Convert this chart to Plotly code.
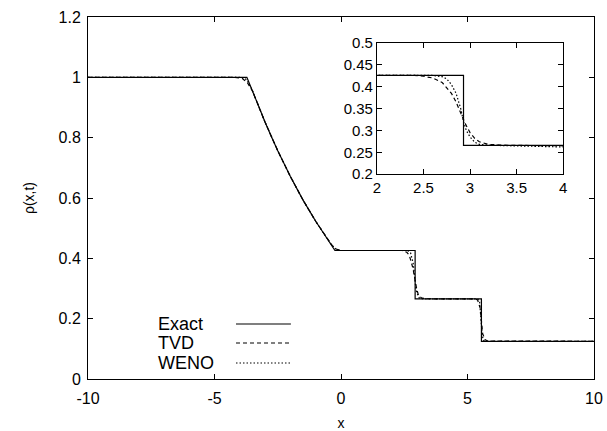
import plotly.graph_objects as go

# ---- data ----
exact_x = [-10, -3.72, -3.5, -3.25, -3.0, -2.75, -2.5, -2.0, -1.5, -1.0, -0.5, -0.24,
           2.93, 2.93, 5.55, 5.55, 10]
exact_rho = [1.0, 1.0, 0.955, 0.902, 0.851, 0.803, 0.757, 0.671, 0.593, 0.523, 0.459, 0.426,
             0.426, 0.2656, 0.2656, 0.125, 0.125]

tvd_x = [-10, -4.2, -3.9, -3.7, -3.5, -3.25, -3.0, -2.5, -2.0, -1.5, -1.0, -0.5, -0.35, -0.2, 0.0,
         2.4, 2.5, 2.6, 2.7, 2.8, 2.85, 2.9, 2.95, 3.0, 3.05, 3.1, 3.2, 3.4,
         5.3, 5.4, 5.5, 5.55, 5.6, 5.7, 5.8, 10]
tvd_rho = [1.0, 1.0, 0.996, 0.982, 0.955, 0.902, 0.851, 0.757, 0.671, 0.593, 0.523, 0.461, 0.443, 0.431, 0.426,
           0.426, 0.424, 0.420, 0.410, 0.385, 0.365, 0.340, 0.315, 0.295, 0.282, 0.274, 0.268, 0.266,
           0.2656, 0.262, 0.235, 0.19, 0.15, 0.13, 0.126, 0.125]

weno_x = [-10, -4.0, -3.8, -3.7, -3.5, -3.25, -3.0, -2.5, -2.0, -1.5, -1.0, -0.5, -0.3, -0.15, 0.0,
          2.6, 2.7, 2.75, 2.8, 2.85, 2.9, 2.93, 2.96, 3.0, 3.05, 3.1, 3.2, 3.4,
          5.4, 5.48, 5.53, 5.58, 5.63, 5.7, 10]
weno_rho = [1.0, 1.0, 0.997, 0.988, 0.956, 0.902, 0.851, 0.757, 0.671, 0.593, 0.523, 0.460, 0.437, 0.428, 0.426,
            0.426, 0.423, 0.418, 0.405, 0.385, 0.350, 0.320, 0.300, 0.285, 0.273, 0.268, 0.266, 0.2656,
            0.2656, 0.255, 0.20, 0.145, 0.128, 0.125, 0.125]

main_xticks = [-10, -5, 0, 5, 10]
main_xticklabels = ["-10", "-5", "0", "5", "10"]
main_yticks = [0, 0.2, 0.4, 0.6, 0.8, 1, 1.2]
main_yticklabels = ["0", "0.2", "0.4", "0.6", "0.8", "1", "1.2"]
inset_xticks = [2, 2.5, 3, 3.5, 4]
inset_xticklabels = ["2", "2.5", "3", "3.5", "4"]
inset_yticks = [0.2, 0.25, 0.3, 0.35, 0.4, 0.45, 0.5]
inset_yticklabels = ["0.2", "0.25", "0.3", "0.35", "0.4", "0.45", "0.5"]

series = [
    ("Exact", exact_x, exact_rho, "solid"),
    ("TVD", tvd_x, tvd_rho, "4px,3px"),
    ("WENO", weno_x, weno_rho, "1.5px,2px"),
]

FONT = "Liberation Sans, Arial, Helvetica, sans-serif"
fig = go.Figure()
for name, xs, ys, dash in series:
    for xa, ya in (("x", "y"), ("x2", "y2")):
        fig.add_trace(go.Scatter(x=xs, y=ys, mode="lines", name=name, xaxis=xa, yaxis=ya,
                                 showlegend=False,
                                 line=dict(color="black", width=1.2, dash=dash)))

def axis_style(size):
    return dict(showline=True, linecolor="black", linewidth=1, mirror="ticks",
                ticks="inside", ticklen=5, tickcolor="black", showgrid=False,
                zeroline=False, automargin=False,
                tickfont=dict(family=FONT, size=size, color="black"))

fig.update_layout(
    width=607, height=431,
    margin=dict(l=88, r=13, t=17, b=52),
    paper_bgcolor="white", plot_bgcolor="white",
    font=dict(family=FONT, color="black"),
    xaxis=dict(range=[-10, 10], tickvals=main_xticks, ticktext=main_xticklabels,
               title=dict(text="x", font=dict(size=14), standoff=14), domain=[0, 1],
               ticklabelstandoff=5, **axis_style(16)),
    yaxis=dict(range=[0, 1.2], tickvals=main_yticks, ticktext=main_yticklabels,
               title=dict(text="ρ(x,t)", font=dict(size=14), standoff=20), domain=[0, 1],
               ticklabelstandoff=3, **axis_style(16)),
    xaxis2=dict(range=[2, 4], tickvals=inset_xticks, ticktext=inset_xticklabels,
                domain=[0.571, 0.939], anchor="y2", **axis_style(15)),
    yaxis2=dict(range=[0.2, 0.5], tickvals=inset_yticks, ticktext=inset_yticklabels,
                domain=[0.566, 0.928], anchor="x2", **axis_style(15)),
)

# manual legend (text left of sample line, as in the reference)
leg_y = [0.152, 0.0994, 0.0442]
for (name, _, _, dash), yy in zip(series, leg_y):
    fig.add_annotation(x=0.134, y=yy, xref="paper", yref="paper", text=name,
                       showarrow=False, xanchor="left", yanchor="middle",
                       font=dict(family=FONT, size=18, color="black"))
    fig.add_shape(type="line", xref="paper", yref="paper", x0=0.2925, x1=0.401, y0=yy, y1=yy,
                  line=dict(color="black", width=1.2, dash=dash))

fig.write_html("out.html")
